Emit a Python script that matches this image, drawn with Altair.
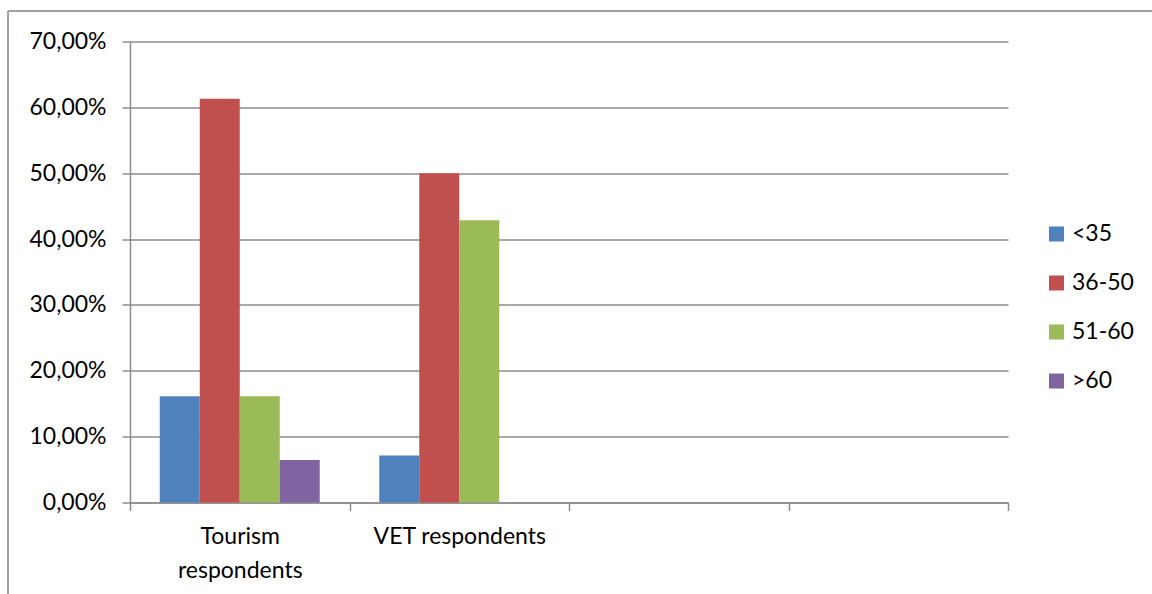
import altair as alt
import pandas as pd

groups = ["Tourism respondents", "VET respondents"]
slots = ["Tourism respondents", "VET respondents", " ", "  "]
ages = ["<35", "36-50", "51-60", ">60"]
colors = ["#4F81BD", "#C0504D", "#9BBB59", "#8064A2"]
tourism = [0.1613, 0.6129, 0.1613, 0.0645]
vet = [0.0714, 0.5000, 0.4286, 0.0]
y_ticks = [0, 0.1, 0.2, 0.3, 0.4, 0.5, 0.6, 0.7]

rows = []
for a, v in zip(ages, tourism):
    rows.append({"group": groups[0], "age": a, "value": v})
for a, v in zip(ages, vet):
    rows.append({"group": groups[1], "age": a, "value": v})
df = pd.DataFrame(rows)

FONT = "Lato"
GRAY = "#8C8C8C"

bars = alt.Chart(df).mark_bar().encode(
    x=alt.X("group:N",
            scale=alt.Scale(domain=slots, paddingInner=0, paddingOuter=0),
            axis=alt.Axis(title=None, tickBand="extent", labelAngle=0, grid=False,
                          domainColor=GRAY, domainWidth=1.5, tickColor=GRAY, tickWidth=1.5,
                          tickSize=8, labelPadding=15, labelLimit=400, labelLineHeight=34,
                          labelExpr="datum.value == 'Tourism respondents' ? ['Tourism', 'respondents'] : datum.value")),
    xOffset=alt.XOffset("age:N", scale=alt.Scale(domain=ages, paddingOuter=0.744, paddingInner=0)),
    y=alt.Y("value:Q",
            scale=alt.Scale(domain=[0, 0.7], nice=False),
            axis=alt.Axis(title=None, values=y_ticks, grid=True, gridColor=GRAY, gridWidth=1.5,
                          domainColor=GRAY, domainWidth=1.5, tickColor=GRAY, tickWidth=1.5,
                          tickSize=8, labelPadding=16,
                          labelExpr="replace(format(datum.value, '.2%'), '.', ',')")),
    color=alt.Color("age:N", scale=alt.Scale(domain=ages, range=colors),
                    legend=alt.Legend(title=None, orient="none", legendX=915, legendY=181,
                                      symbolType="square", symbolSize=225, symbolStrokeWidth=0,
                                      labelFontSize=23, labelFont=FONT, labelColor="#000000",
                                      rowPadding=25, labelOffset=4, padding=0)),
)

border_left = alt.Chart(df).mark_rule(color="#A0A0A0", strokeWidth=1.5).encode(
    x=alt.value(-122), y=alt.value(-30.5), y2=alt.value(560))
border_top = alt.Chart(df).mark_rule(color="#A0A0A0", strokeWidth=1.5).encode(
    x=alt.value(-122), x2=alt.value(1030), y=alt.value(-30.5))

chart = alt.layer(border_left, border_top, bars).properties(
    width=878, height=461,
    autosize=alt.AutoSizeParams(type="none"),
    padding={"left": 130, "top": 41.5, "right": 144, "bottom": 91.5},
    background="white",
).configure_view(stroke=None).configure_axis(
    labelFont=FONT, labelFontSize=23, labelColor="#000000"
)

chart.save("out.html", embed_options={"renderer": "svg", "actions": False})
